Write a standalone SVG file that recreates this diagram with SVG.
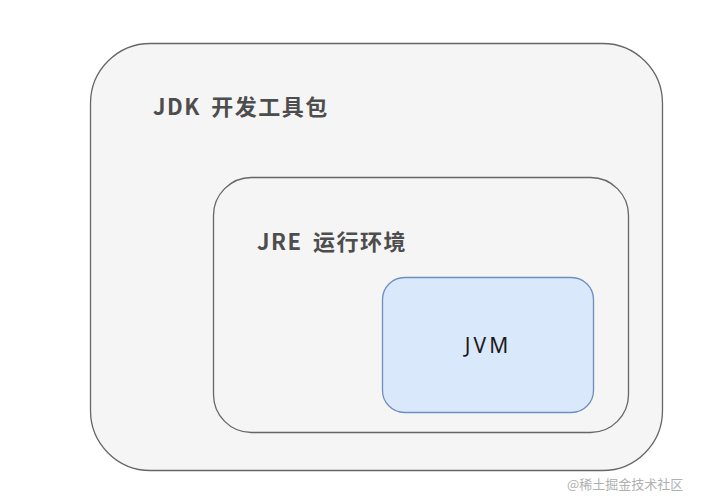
<svg xmlns="http://www.w3.org/2000/svg" width="717" height="504" viewBox="0 0 717 504">
<style>
.box{fill:#f5f5f5;stroke:#666666;stroke-width:1.3}
.lbl{font-family:"Noto Sans CJK SC","Noto Sans",sans-serif;font-weight:bold;font-size:22px;letter-spacing:1.5px;fill:#4d4d4d}
</style>
<rect width="717" height="504" fill="#ffffff"/>
<g id="jdk">
<rect class="box" x="90.5" y="43.5" width="572" height="427" rx="60" ry="60"/>
<text class="lbl" x="153" y="115" word-spacing="4">JDK 开发工具包</text>
</g>
<g id="jre">
<rect class="box" x="213.5" y="177.5" width="415" height="255" rx="38" ry="38"/>
<text class="lbl" x="257" y="250" word-spacing="4">JRE 运行环境</text>
</g>
<g id="jvm">
<rect x="382.5" y="277.5" width="211" height="135" rx="22" ry="22" fill="#dae8fc" stroke="#6c8ebf" stroke-width="1.3"/>
<text x="488" y="353" text-anchor="middle" font-family="'Noto Sans',sans-serif" font-size="21" letter-spacing="3" fill="#1a1a1a">JVM</text>
</g>
<g id="connectors"></g>
<text x="567" y="489" font-family="'Noto Sans CJK SC',sans-serif" font-size="13" fill="#b0b0b0">@稀土掘金技术社区</text>
</svg>
